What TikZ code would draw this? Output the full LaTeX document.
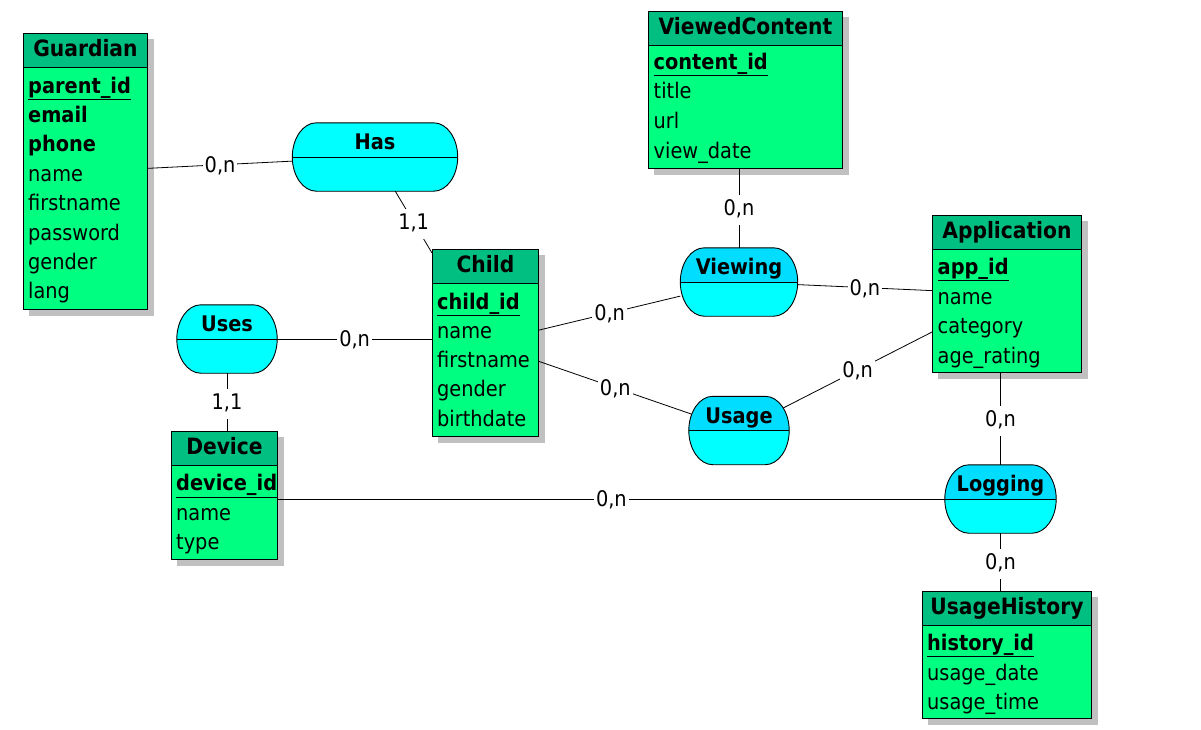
\documentclass[tikz,border=0pt]{standalone}
\usepackage{fontspec}
\setmainfont{DejaVu Sans Condensed}
\usetikzlibrary{calc,intersections}
\definecolor{entbody}{RGB}{0,255,128}
\definecolor{enthead}{RGB}{0,191,128}
\definecolor{relfill}{RGB}{0,255,255}
\definecolor{reltop}{RGB}{0,221,255}
\definecolor{shadowgray}{RGB}{192,192,192}
\pgfdeclarelayer{bg}
\pgfsetlayers{bg,main}
\newcommand{\reloutline}[1]{([xshift=24pt]#1.north west) -- ([xshift=-24pt]#1.north east)
  .. controls ([xshift=-10.75pt]#1.north east) and ([yshift=18.78pt]#1.east) .. (#1.east)
  .. controls ([yshift=-18.78pt]#1.east) and ([xshift=-10.75pt]#1.south east) .. ([xshift=-24pt]#1.south east)
  -- ([xshift=24pt]#1.south west)
  .. controls ([xshift=10.75pt]#1.south west) and ([yshift=-18.78pt]#1.west) .. (#1.west)
  .. controls ([yshift=18.78pt]#1.west) and ([xshift=10.75pt]#1.north west) .. ([xshift=24pt]#1.north west) -- cycle}
\tikzset{
  txt/.style={font=\fontsize{21.5}{26}\selectfont, inner sep=0pt, text height=15.5pt, text depth=4.5pt},
  entbox/.style={draw, fill=entbody, line width=0.9pt, anchor=north west, inner sep=0pt},
  enthdr/.style={draw, fill=enthead, line width=0.9pt, anchor=north west, inner sep=0pt,
    minimum height=34pt, text height=17pt, text depth=4pt, font=\fontsize{22.5}{27}\selectfont\bfseries},
  attr/.style={txt, anchor=west, yshift=-2.5pt},
  relnode/.style={rectangle, inner sep=0pt, minimum height=68pt},
  reltxt/.style={txt, text height=17pt, text depth=4pt, font=\fontsize{21.5}{26}\selectfont\bfseries},
  relline/.style={line width=0.9pt},
  link/.style={line width=0.8pt},
  card/.style={txt, fill=white, inner xsep=2pt, inner ysep=5pt, yshift=-2pt},
}
\begin{document}
\begin{tikzpicture}[x=1pt,y=-1pt]
\useasboundingbox (0,0) rectangle (1201,729);

% ---------- entities ----------
\node[entbox, minimum width=124pt, minimum height=276pt] (guardian) at (23,33) {};
\node[enthdr, minimum width=124pt] (guardian-h) at (23,33) {Guardian};
\node[attr] (guardian-1) at (28,85) {\textbf{\underline{parent\_id}}};
\node[attr] (guardian-2) at (28,114) {\textbf{email}};
\node[attr] (guardian-3) at (28,143.5) {\textbf{phone}};
\node[attr] (guardian-4) at (28,173) {name};
\node[attr] (guardian-5) at (28,202.5) {firstname};
\node[attr] (guardian-6) at (28,232) {password};
\node[attr] (guardian-7) at (28,261.5) {gender};
\node[attr] (guardian-8) at (28,290.5) {lang};

\node[entbox, minimum width=106pt, minimum height=187pt] (child) at (432,249) {};
\node[enthdr, minimum width=106pt] (child-h) at (432,249) {Child};
\node[attr] (child-1) at (437,301) {\textbf{\underline{child\_id}}};
\node[attr] (child-2) at (437,330) {name};
\node[attr] (child-3) at (437,359) {firstname};
\node[attr] (child-4) at (437,388.5) {gender};
\node[attr] (child-5) at (437,418) {birthdate};

\node[entbox, minimum width=194pt, minimum height=157pt] (vc) at (648,11) {};
\node[enthdr, minimum width=194pt] (vc-h) at (648,11) {ViewedContent};
\node[attr] (vc-1) at (653.5,61) {\textbf{\underline{content\_id}}};
\node[attr] (vc-2) at (653.5,90.5) {title};
\node[attr] (vc-3) at (653.5,120) {url};
\node[attr] (vc-4) at (653.5,150) {view\_date};

\node[entbox, minimum width=149pt, minimum height=157pt] (app) at (932,215) {};
\node[enthdr, minimum width=149pt] (app-h) at (932,215) {Application};
\node[attr] (app-1) at (937.5,266) {\textbf{\underline{app\_id}}};
\node[attr] (app-2) at (937.5,296) {name};
\node[attr] (app-3) at (937.5,325.5) {category};
\node[attr] (app-4) at (937.5,355) {age\_rating};

\node[entbox, minimum width=106pt, minimum height=128pt] (device) at (171,431) {};
\node[enthdr, minimum width=106pt] (device-h) at (171,431) {Device};
\node[attr] (device-1) at (176,482.5) {\textbf{\underline{device\_id}}};
\node[attr] (device-2) at (176,512) {name};
\node[attr] (device-3) at (176,541) {type};

\node[entbox, minimum width=169pt, minimum height=127pt] (uh) at (922,591) {};
\node[enthdr, minimum width=169pt] (uh-h) at (922,591) {UsageHistory};
\node[attr] (uh-1) at (927,642) {\textbf{\underline{history\_id}}};
\node[attr] (uh-2) at (927,672) {usage\_date};
\node[attr] (uh-3) at (927,701) {usage\_time};

% ---------- relations ----------
\node[relnode, minimum width=165pt] (has) at (375,157) {};
\node[relnode, minimum width=100pt] (uses) at (227,339) {};
\node[relnode, minimum width=117pt] (viewing) at (739,282) {};
\node[relnode, minimum width=100pt] (usage) at (739,430.5) {};
\node[relnode, minimum width=111pt] (logging) at (1000.5,499) {};

\foreach \r in {has,uses,viewing,usage,logging}{
  \fill[relfill] \reloutline{\r};
}
\foreach \r in {viewing,usage,logging}{
  \begin{scope}
    \clip \reloutline{\r};
    \fill[reltop] (\r.north west) rectangle (\r.east);
  \end{scope}
}
\foreach \r/\t in {has/Has,uses/Uses,viewing/Viewing,usage/Usage,logging/Logging}{
  \draw[relline] \reloutline{\r};
  \draw[relline] (\r.west) -- (\r.east);
  \node[reltxt] (\r-t) at ([yshift=14pt]\r.center) {\t};
}
\path[name path=usageP] \reloutline{usage};

% ---------- shadows ----------
\begin{pgfonlayer}{bg}
\foreach \n in {guardian,child,vc,app,device,uh}
  \fill[shadowgray] ([shift={(6pt,-6pt)}]\n.south west) rectangle ([shift={(6pt,-6pt)}]\n.north east);
\foreach \r in {has,uses,viewing,usage,logging}{
  \begin{scope}[shift={(6pt,-6pt)}]
    \fill[shadowgray] \reloutline{\r};
  \end{scope}
}
\end{pgfonlayer}

% ---------- connectors ----------
\path[name path=l6] (child.center) -- (usage.center);
\path[name path=l8] (app.center) -- (usage.center);
\path[name intersections={of=usageP and l6, by=i6}];
\path[name intersections={of=usageP and l8, by=i8}];

\draw[link] (guardian) -- (has) node[card, midway] (c1) {0,n};
\draw[link] (has) -- (child) node[card, midway] (c2) {1,1};
\draw[link] (uses.east) -- (uses.east -| child.west) node[card, midway] (c3) {0,n};
\draw[link] (uses.south) -- (uses.south |- device.north) node[card, midway] (c4) {1,1};
\draw[link] (child) -- (viewing) node[card, midway] (c5) {0,n};
\draw[link] (child) -- (i6) node[card, midway] (c6) {0,n};
\draw[link] (viewing) -- (app) node[card, midway] (c7) {0,n};
\draw[link] (i8) -- (app) node[card, midway] (c8) {0,n};
\draw[link] (vc.south -| viewing.north) -- (viewing.north) node[card, midway] (c9) {0,n};
\draw[link] (app.south -| logging.north) -- (logging.north) node[card, midway] (c10) {0,n};
\draw[link] (logging.south) -- (logging.south |- uh.north) node[card, midway] (c11) {0,n};
\draw[link] (logging.west -| device.east) -- (logging.west) node[card, midway] (c12) {0,n};
\end{tikzpicture}
\end{document}
